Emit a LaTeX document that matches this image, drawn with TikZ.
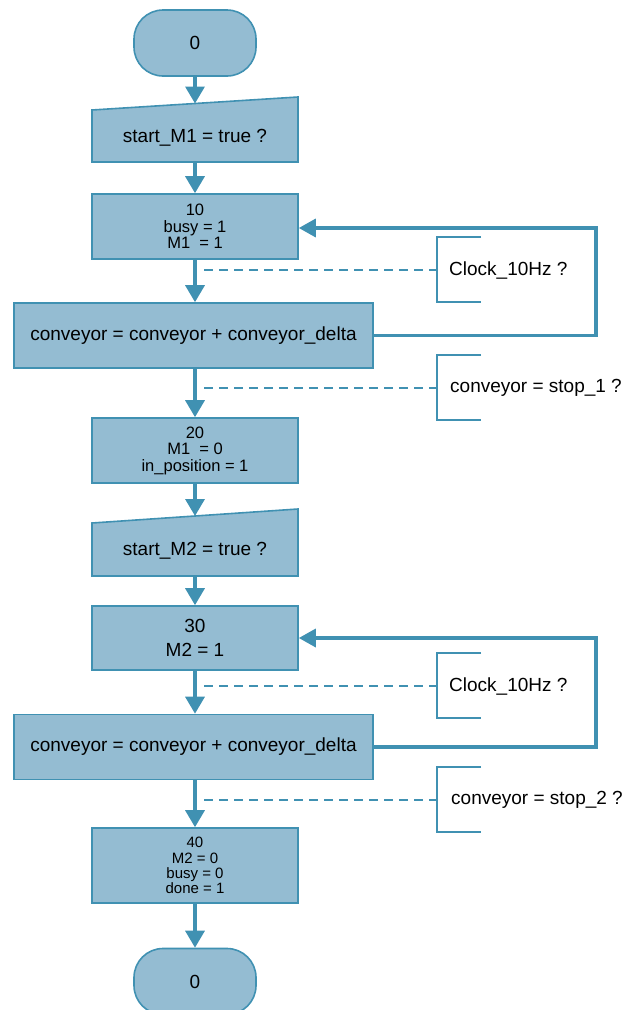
\documentclass[tikz,border=0pt]{standalone}
\usepackage{fontspec}
\setmainfont{Liberation Sans}
\usetikzlibrary{arrows.meta,calc}
\definecolor{boxfill}{RGB}{148,188,210}
\definecolor{edgeblue}{RGB}{64,145,178}
\begin{document}
\begin{tikzpicture}[x=1pt,y=-1pt,
  shapeline/.style={draw=edgeblue,fill=boxfill,line width=1.6pt},
  stepbox/.style={shapeline,minimum width=206pt,inner sep=0pt,align=center},
  actbox/.style={shapeline,minimum width=359pt,minimum height=65pt,inner sep=0pt,
    font=\fontsize{19}{22}\selectfont},
  termbox/.style={shapeline,rounded corners=29pt,minimum width=122pt,minimum height=66pt,
    inner sep=0pt,font=\fontsize{19}{22}\selectfont},
  bigtxt/.style={font=\fontsize{19}{22}\selectfont},
  flow/.style={draw=edgeblue,line width=3.4pt,-{Triangle[length=17pt,width=19pt]}},
  loopline/.style={draw=edgeblue,line width=3.4pt,-{Triangle[length=17pt,width=18pt]}},
  condline/.style={draw=edgeblue,line width=2.2pt,dash pattern=on 9pt off 6pt},
  bracketline/.style={draw=edgeblue,line width=2.8pt},
  condtxt/.style={anchor=west,inner sep=0pt,font=\fontsize{19}{22}\selectfont}
]
\useasboundingbox (0,0) rectangle (624,1010);

% start terminator
\node[termbox] (t0) at (195,43) {0};

% transition: start_M1
\filldraw[shapeline] (92,110) -- (298,97) -- (298,162) -- (92,162) -- cycle;
\node[bigtxt] (q1) at (195,138) {start\_M1 = true ?};
\coordinate (q1in) at (195,103.5);
\coordinate (q1out) at (195,162);

% step 10
\node[stepbox,minimum height=65pt,font=\fontsize{16.5}{16.5}\selectfont] (s10) at (195,226.5)
  {10\\busy = 1\\M1\ \ = 1};

% action: conveyor 1
\node[actbox] (a1) at (193.5,335.5) {conveyor = conveyor + conveyor\_delta};

% step 20
\node[stepbox,minimum height=65pt,font=\fontsize{16.5}{16.5}\selectfont] (s20) at (195,450.5)
  {20\\M1\ \ = 0\\in\_position = 1};

% transition: start_M2
\filldraw[shapeline] (92,523) -- (298,509) -- (298,576) -- (92,576) -- cycle;
\node[bigtxt] (q2) at (195,551) {start\_M2 = true ?};
\coordinate (q2in) at (195,516);
\coordinate (q2out) at (195,576);

% step 30
\node[stepbox,minimum height=64pt,font=\fontsize{19}{24}\selectfont] (s30) at (195,638)
  {30\\M2 = 1};

% action: conveyor 2
\node[actbox] (a2) at (193.5,747) {conveyor = conveyor + conveyor\_delta};

% step 40
\node[stepbox,minimum height=75pt,font=\fontsize{15}{15.2}\selectfont] (s40) at (195,865.5)
  {40\\M2 = 0\\busy = 0\\done = 1};

% end terminator
\node[termbox] (t1) at (195,981.5) {0};

% main flow
\draw[flow] (t0.south) -- (q1in);
\draw[flow] (q1out) -- (s10.north);
\draw[flow] (s10.south) -- (s10.south |- a1.north);
\draw[flow] (s10.south |- a1.south) -- (s20.north);
\draw[flow] (s20.south) -- (q2in);
\draw[flow] (q2out) -- (s30.north);
\draw[flow] (s30.south) -- (s30.south |- a2.north);
\draw[flow] (s30.south |- a2.south) -- (s40.north);
\draw[flow] (s40.south) -- (t1.north);

% repeat loops
\coordinate (r1) at (596,228);
\coordinate (r2) at (596,638);
\draw[loopline] (a1.east) -| (r1) -- (s10.east |- r1);
\draw[loopline] (a2.east) -| (r2) -- (s30.east |- r2);

% conditions
\node[condtxt] (c1) at (449,270) {Clock\_10Hz ?};
\node[condtxt] (c2) at (450,388) {conveyor = stop\_1 ?};
\node[condtxt] (c3) at (449,686) {Clock\_10Hz ?};
\node[condtxt] (c4) at (451,800) {conveyor = stop\_2 ?};

\foreach \c/\y in {c1/270,c2/388,c3/686,c4/800}{
  \coordinate (\c k) at (437,\y);
  \draw[condline] (204,\y) -- (\c k);
  \draw[bracketline] ($(\c k)+(44,-33)$) -- ($(\c k)+(0,-33)$) -- ($(\c k)+(0,32)$) -- ($(\c k)+(44,32)$);
}
\end{tikzpicture}
\end{document}
